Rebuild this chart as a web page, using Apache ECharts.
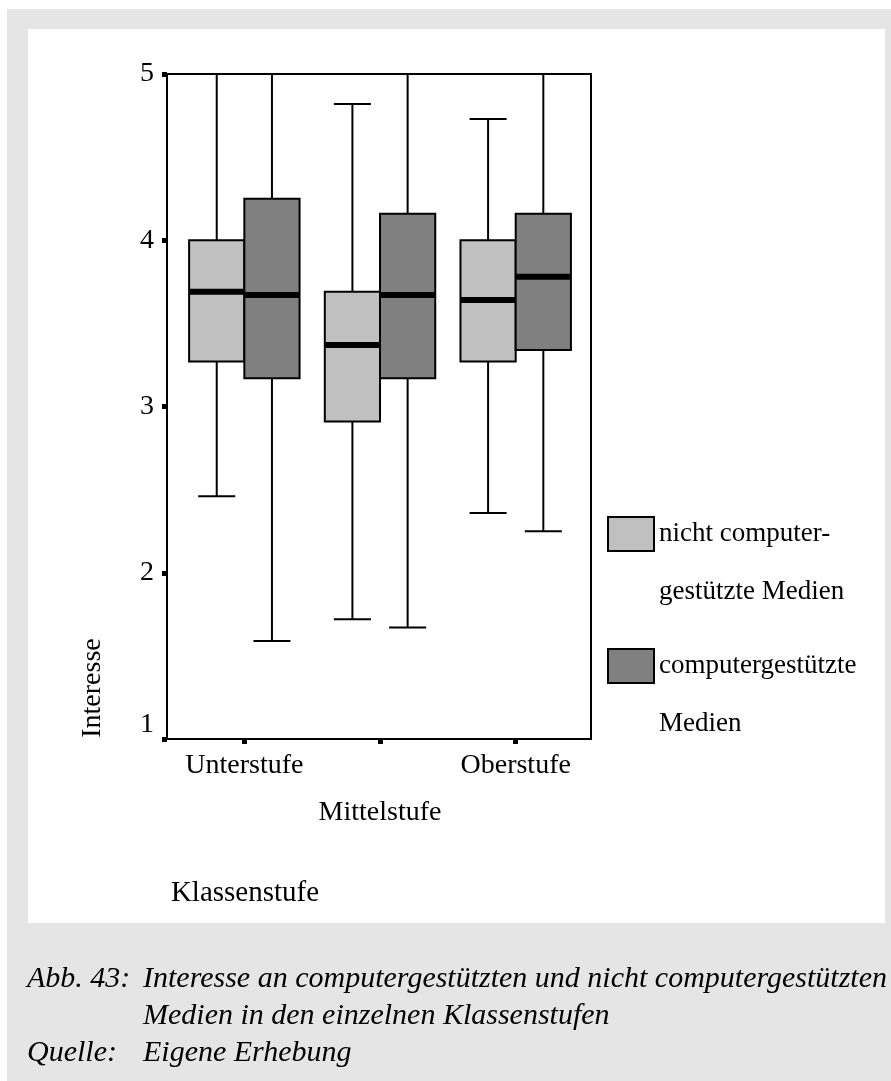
<!DOCTYPE html>
<html>
<head>
<meta charset="utf-8">
<script src="https://cdn.jsdelivr.net/npm/echarts@6/dist/echarts.min.js"></script>
<style>
  html, body { margin: 0; padding: 0; background: #fff; }
  #page { position: relative; width: 891px; height: 1081px; overflow: hidden; }
  .bg-grey { position: absolute; left: 7px; top: 9px; width: 884px; height: 1072px; background: #e5e5e5; }
  .bg-white { position: absolute; left: 28px; top: 29px; width: 857px; height: 894px; background: #fff; }
  #chart { position: absolute; left: 0; top: 0; width: 891px; height: 1081px; }
</style>
</head>
<body>
<div id="page">
  <div class="bg-grey"></div>
  <div class="bg-white"></div>
  <div id="chart"></div>
</div>
<script>
// Klassenstufen on the x axis
const categories = ['Unterstufe', 'Mittelstufe', 'Oberstufe'];
const seriesNames = ['nicht computer-\ngestützte Medien', 'computergestützte\nMedien'];
const seriesColors = ['#c0c0c0', '#808080'];

// Box statistics per Klassenstufe: [lower whisker, Q1, median, Q3, upper whisker]
const nichtComputer = [
  [2.46, 3.27, 3.69, 4.00, 5.00],
  [1.72, 2.91, 3.37, 3.69, 4.82],
  [2.36, 3.27, 3.64, 4.00, 4.73]
];
const computer = [
  [1.59, 3.17, 3.67, 4.25, 5.00],
  [1.67, 3.17, 3.67, 4.16, 5.00],
  [2.25, 3.34, 3.78, 4.16, 5.00]
];

const yTicks = [1, 2, 3, 4, 5];
const categoryPositions = [1, 2, 3];

const SERIF = '"Liberation Serif", "Times New Roman", serif';
const BOX_W = 0.407;   // box width in category units
const CAP_W = 0.273;   // whisker cap width in category units

function toRows(stats) {
  return stats.map((s, i) => [categoryPositions[i]].concat(s));
}

function makeRender(side) {
  return function (params, api) {
    const c = api.value(0);
    const x0 = side < 0 ? c - BOX_W : c;
    const x1 = side < 0 ? c : c + BOX_W;
    const xm = (x0 + x1) / 2;
    const px = v => api.coord([v, 3])[0];
    const py = v => api.coord([2, v])[1];
    const L = px(x0), R = px(x1), M = px(xm);
    const capL = px(xm - CAP_W / 2), capR = px(xm + CAP_W / 2);
    const yLo = py(api.value(1)), yQ1 = py(api.value(2)), yMed = py(api.value(3));
    const yQ3 = py(api.value(4)), yHi = py(api.value(5));
    const thin = { stroke: '#000', lineWidth: 2 };
    return {
      type: 'group',
      children: [
        { type: 'line', shape: { x1: M, y1: yQ3, x2: M, y2: yHi }, style: thin },
        { type: 'line', shape: { x1: capL, y1: yHi, x2: capR, y2: yHi }, style: thin },
        { type: 'line', shape: { x1: M, y1: yQ1, x2: M, y2: yLo }, style: thin },
        { type: 'line', shape: { x1: capL, y1: yLo, x2: capR, y2: yLo }, style: thin },
        { type: 'rect', shape: { x: L, y: yQ3, width: R - L, height: yQ1 - yQ3 },
          style: { fill: api.visual('color'), stroke: '#000', lineWidth: 2 } },
        { type: 'line', shape: { x1: L, y1: yMed, x2: R, y2: yMed }, style: { stroke: '#000', lineWidth: 6 } }
      ]
    };
  };
}

// One legend per series, so each entry can sit at its own height.
// A leading empty line keeps the first text line level with the swatch.
function legendFor(i, top) {
  return {
    data: [{
      name: seriesNames[i],
      icon: 'rect',
      itemStyle: { color: seriesColors[i], borderColor: '#000', borderWidth: 2 }
    }],
    formatter: name => '\n' + name,
    orient: 'vertical',
    left: 607,
    top: top,
    padding: 0,
    itemWidth: 46,
    itemHeight: 34,
    selectedMode: false,
    textStyle: {
      fontFamily: SERIF, fontSize: 27, color: '#000', lineHeight: 58
    }
  };
}

const chart = echarts.init(document.getElementById('chart'), null, { renderer: 'canvas' });

chart.setOption({
  animation: false,
  backgroundColor: 'transparent',
  grid: {
    left: 167, right: 300, top: 74, bottom: 342,
    show: true, borderColor: '#000', borderWidth: 2, backgroundColor: 'transparent'
  },
  legend: [legendFor(0, 447), legendFor(1, 579)],
  xAxis: {
    type: 'value',
    min: 0.43,
    max: 3.555,
    splitLine: { show: false },
    axisLine: { show: true, lineStyle: { color: '#000', width: 2 } },
    axisTick: { show: true, customValues: categoryPositions, length: 5, lineStyle: { color: '#000', width: 5 } },
    axisLabel: {
      customValues: categoryPositions,
      formatter: v => {
        const idx = categoryPositions.indexOf(Math.round(v));
        const name = categories[idx];
        return idx === 1 ? '\n' + name : name;
      },
      fontFamily: SERIF, fontSize: 28, color: '#000',
      lineHeight: 47, margin: 3, verticalAlign: 'top'
    }
  },
  yAxis: {
    type: 'value',
    min: yTicks[0],
    max: yTicks[yTicks.length - 1],
    interval: 1,
    splitLine: { show: false },
    axisLine: { show: true, lineStyle: { color: '#000', width: 2 } },
    axisTick: { show: true, length: 5, lineStyle: { color: '#000', width: 5 } },
    axisLabel: {
      fontFamily: SERIF, fontSize: 28, color: '#000', margin: 13,
      verticalAlignMinLabel: 'bottom'
    }
  },
  series: [
    {
      name: seriesNames[0],
      type: 'custom',
      renderItem: makeRender(-1),
      itemStyle: { color: seriesColors[0], borderColor: '#000', borderWidth: 2 },
      encode: { x: 0, y: [1, 2, 3, 4, 5] },
      clip: false,
      data: toRows(nichtComputer)
    },
    {
      name: seriesNames[1],
      type: 'custom',
      renderItem: makeRender(1),
      itemStyle: { color: seriesColors[1], borderColor: '#000', borderWidth: 2 },
      encode: { x: 0, y: [1, 2, 3, 4, 5] },
      clip: false,
      data: toRows(computer)
    }
  ],
  graphic: [
    {
      type: 'text', x: 93, y: 688, rotation: Math.PI / 2,
      style: { text: 'Interesse', font: '28px ' + SERIF, fill: '#000', align: 'center', verticalAlign: 'middle' }
    },
    {
      type: 'text', x: 245, y: 893,
      style: { text: 'Klassenstufe', font: '29px ' + SERIF, fill: '#000', align: 'center', verticalAlign: 'middle' }
    },
    {
      type: 'text', x: 27, y: 979,
      style: { text: 'Abb. 43:', font: 'italic 30px ' + SERIF, fill: '#000', align: 'left', verticalAlign: 'middle' }
    },
    {
      type: 'text', x: 143, y: 979,
      style: { text: 'Interesse an computergestützten und nicht computergestützten', font: 'italic 30px ' + SERIF, fill: '#000', align: 'left', verticalAlign: 'middle' }
    },
    {
      type: 'text', x: 143, y: 1016,
      style: { text: 'Medien in den einzelnen Klassenstufen', font: 'italic 30px ' + SERIF, fill: '#000', align: 'left', verticalAlign: 'middle' }
    },
    {
      type: 'text', x: 27, y: 1053,
      style: { text: 'Quelle:', font: 'italic 30px ' + SERIF, fill: '#000', align: 'left', verticalAlign: 'middle' }
    },
    {
      type: 'text', x: 143, y: 1053,
      style: { text: 'Eigene Erhebung', font: 'italic 30px ' + SERIF, fill: '#000', align: 'left', verticalAlign: 'middle' }
    }
  ]
});
</script>
</body>
</html>
